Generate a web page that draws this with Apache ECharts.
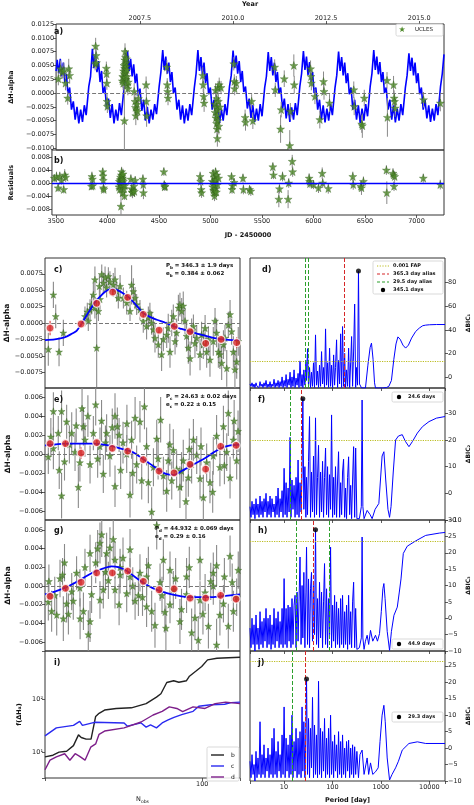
<!DOCTYPE html>
<html><head><meta charset="utf-8">
<script src="https://cdn.jsdelivr.net/npm/echarts@6.0.0/dist/echarts.min.js"></script>
<style>html,body{margin:0;padding:0;background:#fff}#c{width:474px;height:805px}</style>
</head><body><div id="c"></div>
<script>
// ---------------- DATA ----------------
// Panel a: model curve [JD-2450000, dH]
const modelCurve = [
[3462,0.0040],[3473,0.0060],[3488,0.0035],[3503,0.0062],[3518,0.0030],[3533,0.0055],[3548,0.0018],[3563,0.0035],[3578,-0.0002],[3595,0.0010],[3613,-0.0030],[3631,-0.0015],[3649,-0.0048],[3667,-0.0025],[3685,-0.0055],[3703,-0.0030],[3721,-0.0052],[3739,-0.0022],[3757,-0.0040],
[3783,0.0012],[3800,0.0030],[3818,0.0080],[3833,0.0045],[3848,0.0070],[3863,0.0038],[3878,0.0058],[3893,0.0020],[3908,0.0040],[3923,0.0000],[3940,0.0012],[3958,-0.0028],[3976,-0.0010],[3994,-0.0045],[4012,-0.0020],[4030,-0.0055],[4048,-0.0030],[4066,-0.0050],[4084,-0.0018],[4102,-0.0040],
[4128,0.0008],[4145,0.0032],[4163,0.0076],[4178,0.0040],[4193,0.0062],[4208,0.0030],[4223,0.0052],[4238,0.0018],[4253,0.0035],[4268,-0.0005],[4285,0.0008],[4303,-0.0032],[4321,-0.0012],[4339,-0.0050],[4357,-0.0025],[4375,-0.0055],[4393,-0.0030],[4411,-0.0048],[4429,-0.0020],[4447,-0.0038],
[4473,0.0012],[4490,0.0038],[4508,0.0078],[4523,0.0042],[4538,0.0066],[4553,0.0035],[4568,0.0055],[4583,0.0020],[4598,0.0038],[4613,0.0000],[4630,0.0010],[4648,-0.0030],[4666,-0.0012],[4684,-0.0048],[4702,-0.0022],[4720,-0.0055],[4738,-0.0028],[4756,-0.0050],[4774,-0.0020],[4792,-0.0040],
[4818,0.0010],[4835,0.0035],[4853,0.0078],[4868,0.0040],[4883,0.0065],[4898,0.0032],[4913,0.0055],[4928,0.0018],[4943,0.0036],[4958,-0.0002],[4975,0.0010],[4993,-0.0030],[5011,-0.0012],[5029,-0.0046],[5047,-0.0022],[5065,-0.0054],[5083,-0.0030],[5101,-0.0050],[5119,-0.0020],[5137,-0.0040],
[5163,0.0012],[5180,0.0032],[5198,0.0077],[5213,0.0045],[5228,0.0068],[5243,0.0035],[5258,0.0058],[5273,0.0020],[5288,0.0040],[5303,0.0002],[5320,0.0012],[5338,-0.0028],[5356,-0.0010],[5374,-0.0045],[5392,-0.0022],[5410,-0.0052],[5428,-0.0028],[5446,-0.0050],[5464,-0.0020],[5482,-0.0042],
[5508,0.0010],[5525,0.0030],[5543,0.0074],[5558,0.0040],[5573,0.0065],[5588,0.0032],[5603,0.0055],[5618,0.0020],[5633,0.0038],[5648,0.0000],[5665,0.0010],[5683,-0.0028],[5701,-0.0010],[5719,-0.0046],[5737,-0.0020],[5755,-0.0052],[5773,-0.0026],[5791,-0.0048],[5809,-0.0018],[5827,-0.0040],
[5853,0.0012],[5870,0.0035],[5888,0.0076],[5903,0.0042],[5918,0.0066],[5933,0.0033],[5948,0.0056],[5963,0.0020],[5978,0.0038],[5993,0.0000],[6010,0.0010],[6028,-0.0030],[6046,-0.0012],[6064,-0.0048],[6082,-0.0022],[6100,-0.0053],[6118,-0.0028],[6136,-0.0050],[6154,-0.0020],[6172,-0.0040],
[6198,0.0010],[6215,0.0032],[6233,0.0075],[6248,0.0040],[6263,0.0065],[6278,0.0032],[6293,0.0055],[6308,0.0018],[6323,0.0036],[6338,-0.0002],[6355,0.0010],[6373,-0.0030],[6391,-0.0012],[6409,-0.0048],[6427,-0.0022],[6445,-0.0054],[6463,-0.0028],[6481,-0.0050],[6499,-0.0020],[6517,-0.0042],
[6543,0.0012],[6560,0.0035],[6578,0.0078],[6593,0.0042],[6608,0.0066],[6623,0.0034],[6638,0.0056],[6653,0.0020],[6668,0.0038],[6683,0.0000],[6700,0.0010],[6718,-0.0030],[6736,-0.0012],[6754,-0.0048],[6772,-0.0022],[6790,-0.0053],[6808,-0.0028],[6826,-0.0050],[6844,-0.0020],[6862,-0.0040],
[6888,0.0010],[6905,0.0032],[6923,0.0072],[6938,0.0040],[6953,0.0064],[6968,0.0032],[6983,0.0055],[6998,0.0018],[7013,0.0036],[7028,-0.0002],[7045,0.0010],[7063,-0.0030],[7081,-0.0012],[7099,-0.0046],[7117,-0.0022],[7135,-0.0052],[7153,-0.0028],[7171,-0.0050],[7189,-0.0020],[7207,-0.0040],
[7233,0.0012],[7250,0.0035],[7267,0.0070]
];
// UCLES observations
const obsJD = [3484,3506,3522,3538,3554,3576,3586,3595, 3845,3850,3855,3858, 3955,3958,3960,3962,3965,
 4112,4116,4120,4124,4126,4128,4130,4132,4134,4136,4138,4140,4142,4144,4146,4148,4150,4152,4155,4158,4162,4166,4170,
 4228,4236,4240,4244,4250,4256,4262,4270, 4345,4348,4350, 4548,4552,4556,4560, 4900,4905,4910,4914,
 5018,5022,5026,5030,5034,5036,5038,5040,5042,5044,5046,5048,5050,5054,5058,5062,5070,5080,
 5205,5210,5214,5230, 5316,5320, 5380,5392, 5606,5612, 5664,5670, 5700, 5754,5760, 5794,5798, 5958,5962,5966,
 6001, 6049, 6085,6090, 6144, 6382,6386, 6460,6466,6485, 6708,6712, 6772,6778,6782,6788, 7066, 7231];
const obsDH = [0.0026,0.0044,0.0038,0.0041,0.0018,-0.0009,0.0044,0.0032, 0.0053,0.0085,0.0068,0.0055, 0.0045,0.0035,0.0018,-0.0015,-0.0024,
 0.0022,0.0030,0.0018,0.0040,0.0028,0.0050,0.0035,-0.0050,0.0045,0.0060,0.0075,0.0052,0.0065,0.0038,0.0055,0.0025,0.0048,0.0062,0.0042,0.0030,0.0015,0.0008,0.0020,
 0.0003,-0.0015,-0.0026,-0.0041,-0.0030,-0.0020,-0.0033,-0.0010, 0.0015,-0.0015,-0.0041, 0.0047,0.0015,0.0003,-0.0009, 0.0032,0.0015,-0.0006,-0.0018,
 -0.0020,-0.0035,0.0005,-0.0045,-0.0025,-0.0055,-0.0010,-0.0065,-0.0040,-0.0082,-0.0030,-0.0050,0.0010,-0.0015,-0.0060,0.0015,-0.0025,0.0010,
 0.0053,0.0021,0.0008,0.0018, -0.0044,-0.0053, -0.0015,-0.0050, 0.0047,0.0006, -0.0065,-0.0030, 0.0026, -0.0095,-0.0033, 0.0050,0.0015, 0.0044,0.0030,0.0018,
 -0.0006, -0.0048, 0.0021,0.0003, -0.0018, 0.0006,-0.0024, -0.0056,-0.0059,-0.0009, 0.0023,-0.0044, 0.0015,-0.0009,-0.0015,-0.0027, -0.0012, -0.0018];
const obsErr = [0.0012,0.0015,0.0012,0.0014,0.0013,0.0012,0.0018,0.0015, 0.0012,0.0015,0.0013,0.0012, 0.0012,0.0013,0.0012,0.0014,0.0012,
 0.0012,0.0015,0.0013,0.0016,0.0012,0.0018,0.0014,0.0075,0.0014,0.0016,0.0015,0.0013,0.0017,0.0012,0.0015,0.0012,0.0014,0.0016,0.0013,0.0012,0.0014,0.0012,0.0013,
 0.0015,0.0018,0.0016,0.0017,0.0015,0.0014,0.0016,0.0013, 0.0015,0.0014,0.0020, 0.0013,0.0012,0.0012,0.0013, 0.0015,0.0013,0.0014,0.0016,
 0.0013,0.0014,0.0012,0.0016,0.0013,0.0015,0.0012,0.0016,0.0014,0.0015,0.0013,0.0016,0.0012,0.0013,0.0015,0.0013,0.0014,0.0012,
 0.0012,0.0013,0.0012,0.0013, 0.0014,0.0015, 0.0013,0.0015, 0.0014,0.0013, 0.0025,0.0014, 0.0015, 0.0028,0.0015, 0.0020,0.0016, 0.0015,0.0014,0.0013,
 0.0014, 0.0016, 0.0018,0.0015, 0.0016, 0.0015,0.0016, 0.0016,0.0022,0.0015, 0.0015,0.0035, 0.0016,0.0014,0.0015,0.0016, 0.0014, 0.0015];
const obsRes = [0.0015,0.0020,-0.0015,0.0021,0.0008,-0.0020,0.0025,0.0018, -0.0010,0.0020,0.0012,-0.0008, 0.0035,0.0022,0.0008,-0.0015,-0.0020,
 -0.0012,0.0005,-0.0020,0.0010,-0.0005,0.0018,0.0002,-0.0072,0.0012,0.0025,0.0035,0.0008,0.0022,-0.0010,0.0015,-0.0030,0.0010,0.0028,0.0005,-0.0005,-0.0018,-0.0040,-0.0008,
 0.0012,-0.0018,-0.0028,-0.0030,-0.0022,-0.0010,-0.0026,0.0008, 0.0012,-0.0005,-0.0030, 0.0035,-0.0005,-0.0012,-0.0010, 0.0020,0.0005,-0.0020,-0.0030,
 0.0005,-0.0012,0.0030,-0.0022,0.0002,-0.0030,0.0018,-0.0040,-0.0008,-0.0025,0.0010,-0.0018,0.0035,0.0010,-0.0028,0.0025,-0.0005,0.0015,
 0.0020,-0.0020,-0.0008,0.0002, 0.0015,-0.0020, -0.0020,-0.0025, 0.0050,0.0025, -0.0050,-0.0018, 0.0020, -0.0050,0.0000, 0.0067,0.0035, 0.0015,0.0005,-0.0002,
 -0.0005, -0.0015, 0.0030,0.0000, -0.0017, 0.0020,-0.0005, -0.0010,-0.0015,0.0005, 0.0040,-0.0030, 0.0030,0.0025,-0.0010,0.0020, 0.0015, -0.0005];
const jdTicks = [3500,4000,4500,5000,5500,6000,6500,7000];
const yearTicks = [2007.5,2010.0,2012.5,2015.0];
const aTicks = [-0.01,-0.0075,-0.005,-0.0025,0,0.0025,0.005,0.0075,0.01,0.0125];
const bTicks = [-0.008,-0.004,0,0.004,0.008];

// Phase-folded panels: [phase, dH, err]
const phaseC = [[0.017,-0.0040,0.0025],[0.043,0.0043,0.0020],[0.055,0.0010,0.0018],[0.072,-0.0044,0.0022],[0.094,-0.0015,0.0020],[0.205,0.0010,0.0015],[0.217,0.0017,0.0014],[0.222,0.0003,0.0015],[0.231,0.0020,0.0016],[0.239,0.0028,0.0015],[0.248,0.0043,0.0018],[0.256,0.0066,0.0020],[0.256,0.0023,0.0016],[0.265,-0.0038,0.0060],[0.274,0.0018,0.0015],[0.279,0.0056,0.0018],[0.282,0.0036,0.0016],[0.291,0.0074,0.0015],[0.299,0.0061,0.0016],[0.308,0.0069,0.0017],[0.316,0.0054,0.0015],[0.325,0.0071,0.0014],[0.333,0.0063,0.0016],[0.350,0.0058,0.0018],[0.359,0.0066,0.0018],[0.368,0.0048,0.0015],[0.376,0.0038,0.0016],[0.385,0.0056,0.0017],[0.402,0.0038,0.0016],[0.419,0.0031,0.0018],[0.436,0.0018,0.0015],[0.444,0.0058,0.0030],[0.453,0.0048,0.0020],[0.462,0.0038,0.0017],[0.470,0.0028,0.0016],[0.487,0.0020,0.0015],[0.504,0.0003,0.0018],[0.521,-0.0005,0.0020],[0.530,0.0008,0.0017],[0.538,0.0015,0.0016],[0.547,0.0000,0.0018],[0.556,-0.0010,0.0020],[0.564,-0.0023,0.0022],[0.581,-0.0033,0.0020],[0.598,-0.0048,0.0025],[0.607,-0.0025,0.0018],[0.624,-0.0018,0.0020],[0.632,-0.0008,0.0022],[0.641,-0.0044,0.0024],[0.650,0.0000,0.0020],[0.658,0.0010,0.0018],[0.667,-0.0028,0.0020],[0.675,-0.0015,0.0022],[0.684,0.0023,0.0020],[0.692,0.0028,0.0018],[0.701,0.0018,0.0020],[0.709,0.0026,0.0022],[0.718,0.0003,0.0020],[0.726,-0.0020,0.0022],[0.735,-0.0038,0.0024],[0.744,-0.0054,0.0026],[0.752,-0.0013,0.0020],[0.761,-0.0005,0.0018],[0.769,-0.0031,0.0022],[0.778,-0.0023,0.0020],[0.795,-0.0048,0.0024],[0.803,-0.0018,0.0020],[0.812,-0.0033,0.0022],[0.821,-0.0008,0.0020],[0.829,-0.0044,0.0024],[0.838,-0.0025,0.0020],[0.846,-0.0056,0.0026],[0.863,-0.0028,0.0022],[0.872,0.0003,0.0020],[0.880,-0.0015,0.0022],[0.889,-0.0044,0.0024],[0.897,-0.0048,0.0022],[0.906,-0.0061,0.0026],[0.915,-0.0033,0.0022],[0.923,-0.0023,0.0020],[0.932,-0.0069,0.0028],[0.940,-0.0003,0.0020],[0.949,0.0013,0.0022],[0.957,-0.0013,0.0020],[0.966,-0.0044,0.0024],[0.974,-0.0071,0.0030],[0.983,-0.0059,0.0026],[0.991,-0.0028,0.0022]];
const binC = [[0.026,-0.00077,0.0011],[0.185,-0.00015,0.0004],[0.265,0.0030,0.0005],[0.347,0.0047,0.0004],[0.424,0.0039,0.0004],[0.504,0.0013,0.0004],[0.585,-0.0011,0.0004],[0.663,-0.0005,0.0004],[0.744,-0.0013,0.0004],[0.824,-0.0031,0.0005],[0.903,-0.0025,0.0005],[0.983,-0.0030,0.0008]];
const modelC = [[0,-0.0026],[0.05,-0.0025],[0.10,-0.0022],[0.14,-0.0016],[0.162,-0.0012],[0.19,0.0],[0.21,0.0010],[0.231,0.0020],[0.255,0.0031],[0.282,0.0040],[0.31,0.0048],[0.342,0.0052],[0.37,0.0050],[0.402,0.0045],[0.43,0.0039],[0.453,0.0032],[0.48,0.0023],[0.504,0.0015],[0.54,0.0009],[0.573,0.0005],[0.62,0.0000],[0.658,-0.0005],[0.70,-0.0009],[0.744,-0.0013],[0.79,-0.0017],[0.829,-0.0020],[0.87,-0.0023],[0.915,-0.0025],[0.96,-0.0026],[1.0,-0.0026]];

const phaseE = [[0.017,-0.0003,0.0018],[0.03,0.0018,0.0020],[0.043,0.0006,0.0022],[0.043,0.0045,0.0020],[0.068,0.0022,0.0018],[0.073,-0.0017,0.0020],[0.085,-0.0044,0.0024],[0.085,0.0045,0.0022],[0.10,-0.0008,0.0020],[0.111,0.0034,0.0018],[0.125,0.0010,0.0020],[0.137,0.0022,0.0022],[0.154,0.0002,0.0020],[0.16,0.0030,0.0018],[0.171,-0.0035,0.0022],[0.179,-0.0009,0.0020],[0.19,0.0048,0.0024],[0.197,0.0029,0.0020],[0.205,0.0015,0.0018],[0.22,0.0040,0.0022],[0.231,-0.0011,0.0020],[0.248,0.0022,0.0018],[0.26,0.0052,0.0022],[0.27,-0.0005,0.0020],[0.282,0.0008,0.0020],[0.29,0.0035,0.0022],[0.299,-0.0021,0.0020],[0.31,0.0012,0.0018],[0.316,0.0022,0.0020],[0.333,-0.0002,0.0022],[0.345,0.0028,0.0020],[0.359,-0.0034,0.0022],[0.359,0.0040,0.0024],[0.371,0.0029,0.0020],[0.38,0.0020,0.0018],[0.388,-0.0017,0.0020],[0.40,0.0012,0.0022],[0.419,0.0000,0.0020],[0.42,0.0032,0.0020],[0.436,-0.0043,0.0024],[0.444,0.0015,0.0020],[0.45,-0.0020,0.0022],[0.462,0.0038,0.0022],[0.470,-0.0011,0.0020],[0.487,0.0034,0.0022],[0.496,-0.0028,0.0020],[0.51,0.0050,0.0024],[0.521,0.0008,0.0020],[0.53,-0.0030,0.0022],[0.547,-0.0061,0.0026],[0.556,-0.0014,0.0020],[0.573,0.0016,0.0020],[0.58,-0.0005,0.0022],[0.593,0.0036,0.0024],[0.607,-0.0023,0.0020],[0.624,-0.0039,0.0022],[0.632,-0.0007,0.0020],[0.64,0.0010,0.0022],[0.650,-0.0028,0.0020],[0.658,0.0004,0.0022],[0.675,-0.0016,0.0020],[0.692,-0.0035,0.0022],[0.70,-0.0018,0.0020],[0.709,-0.0007,0.0022],[0.723,-0.0050,0.0024],[0.735,-0.0025,0.0020],[0.74,0.0005,0.0022],[0.752,-0.0011,0.0020],[0.761,0.0015,0.0022],[0.778,-0.0001,0.0020],[0.795,-0.0026,0.0022],[0.80,0.0008,0.0020],[0.812,-0.0046,0.0024],[0.829,-0.0009,0.0020],[0.846,-0.0030,0.0022],[0.86,-0.0040,0.0022],[0.863,-0.0002,0.0020],[0.880,0.0019,0.0022],[0.897,-0.0014,0.0020],[0.915,0.0029,0.0022],[0.92,-0.0012,0.0020],[0.932,0.0002,0.0020],[0.940,0.0043,0.0024],[0.949,-0.0025,0.0022],[0.966,0.0015,0.0020],[0.97,0.0035,0.0022],[0.983,-0.0007,0.0020],[0.990,0.0024,0.0022]];
const binE = [[0.026,0.0011,0.0004],[0.105,0.0011,0.0003],[0.185,0.0001,0.0006],[0.265,0.0012,0.0003],[0.345,0.0006,0.0003],[0.424,0.0003,0.0004],[0.504,-0.0006,0.0004],[0.585,-0.0018,0.0004],[0.662,-0.0020,0.0003],[0.744,-0.0011,0.0004],[0.824,-0.0016,0.0005],[0.901,0.0008,0.0004],[0.980,0.0009,0.0003]];
const modelE = [[0,0.0009],[0.05,0.0010],[0.1,0.0011],[0.15,0.0011],[0.2,0.0011],[0.25,0.0011],[0.3,0.0010],[0.35,0.0008],[0.4,0.0005],[0.45,0.0002],[0.5,-0.0005],[0.55,-0.0012],[0.585,-0.0017],[0.62,-0.0021],[0.66,-0.0022],[0.70,-0.0018],[0.744,-0.0013],[0.78,-0.0009],[0.824,-0.0004],[0.86,0.0001],[0.901,0.0006],[0.95,0.0009],[1.0,0.0010]];

const phaseG = [[0.017,-0.0017,0.0020],[0.02,0.0005,0.0018],[0.034,-0.0027,0.0022],[0.05,-0.0010,0.0020],[0.06,-0.0031,0.0022],[0.077,0.0008,0.0020],[0.09,0.0012,0.0018],[0.094,-0.0035,0.0024],[0.10,0.0025,0.0020],[0.111,-0.0019,0.0020],[0.12,-0.0030,0.0022],[0.137,-0.0006,0.0020],[0.145,-0.0016,0.0020],[0.162,0.0014,0.0018],[0.179,-0.0002,0.0020],[0.18,-0.0035,0.0022],[0.197,-0.0027,0.0020],[0.205,0.0020,0.0020],[0.222,-0.0052,0.0026],[0.231,-0.0038,0.0022],[0.231,0.0035,0.0020],[0.239,-0.0009,0.0020],[0.26,0.0025,0.0022],[0.27,0.0040,0.0020],[0.282,-0.0015,0.0020],[0.282,0.0046,0.0022],[0.291,0.0055,0.0024],[0.299,-0.0004,0.0020],[0.31,0.0015,0.0020],[0.316,0.0035,0.0022],[0.325,0.0006,0.0020],[0.333,0.0041,0.0022],[0.35,0.0050,0.0024],[0.359,-0.0004,0.0020],[0.359,0.0028,0.0020],[0.38,-0.0020,0.0022],[0.385,0.0012,0.0020],[0.385,0.0020,0.0020],[0.40,0.0030,0.0022],[0.419,-0.0008,0.0020],[0.436,0.0010,0.0020],[0.436,0.0039,0.0022],[0.45,0.0000,0.0020],[0.462,-0.0016,0.0020],[0.479,-0.0010,0.0022],[0.487,0.0014,0.0020],[0.50,-0.0012,0.0020],[0.521,-0.0022,0.0022],[0.521,0.0010,0.0020],[0.53,0.0022,0.0020],[0.547,-0.0027,0.0022],[0.564,-0.0042,0.0024],[0.573,0.0065,0.0026],[0.590,0.0004,0.0020],[0.60,-0.0010,0.0020],[0.607,0.0028,0.0022],[0.615,-0.0028,0.0022],[0.62,-0.0045,0.0024],[0.641,-0.0020,0.0020],[0.641,0.0017,0.0020],[0.658,-0.0004,0.0020],[0.67,0.0008,0.0022],[0.692,-0.0038,0.0024],[0.70,-0.0025,0.0022],[0.726,-0.0009,0.0020],[0.726,0.0010,0.0020],[0.74,0.0020,0.0022],[0.752,-0.0050,0.0026],[0.769,-0.0034,0.0024],[0.786,-0.0058,0.0026],[0.795,-0.0015,0.0020],[0.795,0.0028,0.0022],[0.81,-0.0030,0.0022],[0.821,-0.0007,0.0020],[0.838,-0.0043,0.0024],[0.85,0.0005,0.0020],[0.863,0.0000,0.0020],[0.863,0.0014,0.0022],[0.880,-0.0063,0.0028],[0.88,0.0022,0.0022],[0.897,-0.0031,0.0022],[0.915,-0.0019,0.0020],[0.92,0.0010,0.0020],[0.940,-0.0043,0.0024],[0.949,0.0032,0.0022],[0.96,0.0004,0.0020],[0.966,-0.0027,0.0022],[0.983,-0.0012,0.0020],[0.991,0.0017,0.0020]];
const binG = [[0.026,-0.0011,0.0003],[0.105,-0.00025,0.0003],[0.185,0.0004,0.0003],[0.265,0.0014,0.0003],[0.345,0.0014,0.0003],[0.424,0.0016,0.0003],[0.504,0.0005,0.0003],[0.585,-0.0004,0.0004],[0.662,-0.0003,0.0004],[0.744,-0.0013,0.0004],[0.824,-0.0013,0.0004],[0.901,-0.0010,0.0005],[0.980,-0.0014,0.0004]];
const modelG = [[0,-0.0009],[0.05,-0.0006],[0.1,-0.0002],[0.15,0.0003],[0.2,0.0009],[0.25,0.0015],[0.3,0.0019],[0.34,0.0021],[0.38,0.0020],[0.42,0.0016],[0.46,0.0010],[0.5,0.0004],[0.55,-0.0002],[0.6,-0.0006],[0.65,-0.0009],[0.7,-0.0011],[0.75,-0.0012],[0.8,-0.0012],[0.85,-0.0012],[0.9,-0.0011],[0.95,-0.0010],[1.0,-0.0009]];
const phTicks7 = [-0.0075,-0.005,-0.0025,0,0.0025,0.005,0.0075];
const phTicks6 = [-0.006,-0.004,-0.002,0,0.002,0.004,0.006];

// Periodograms: shared short-period grid (days) and dBIC values
const periodGrid = [2.00,2.10,2.20,2.31,2.42,2.53,2.66,2.79,2.92,3.07,
 3.22,3.37,3.54,3.71,3.89,4.08,4.28,4.49,4.71,4.94,
 5.18,5.43,5.69,5.97,6.26,6.57,6.89,7.22,7.58,7.95,
 8.33,8.74,9.17,9.61,10.1,10.6,11.1,11.6,12.2,12.8,
 13.4,14.0,14.7,15.4,16.2,17.0,17.8,18.7,19.6,20.5,
 21.5,22.6,23.7,24.6,25.8,27.1,28.4,29.3,30.7,32.2,
 33.8,35.4,37.1,38.9,40.8,42.8,44.9,47.1,49.4,51.8,
 54.3,57.0,59.8,62.7,65.7,68.9,72.3,75.8,79.5,83.4,
 87.5,91.7,96.2,101,106,111,116,122,128,134,
 141,148,155,162,170,179,187,196,206,216,
 227,238,249,261,274,288,302];
const bicD = [-6,-8,-5,-8.5,-6,-9,-5,-8,-6.5,-9, -4,-8,-6,-9,-5,-8,-3,-9,-6,-8.5, -4,-9,-6,-8,-2,-9,-5,-8,-3,-9,
 -4,-8,0,-9,-3,-8,2,-9,-2,-7, 4,-9,0,-8,6,-9,-1,-7,3,-9, 13.6,-8,2,-9,6,-7,14,-3,24,-8,
 8,-9,4,-8,12,-9,35.7,-7,5,-9, 10,-8,21.5,-6,8,-9,40.8,-7,12,-9, 24.4,-8,10,-9,18.7,-7,8,31.5,-9,14,
 -6,36.6,-9,42.8,-8,20,-9,6,-8,24.4, -9,12,34.3,-8,22,61.9,-9];
const bicF = [-5,-9,-3,-8,-4,-9.5,-2,-8,-4,-9, -1,-8,-3,-9,-2,-7,0,-9,-3,-8, -1,-9,-2,-7,-4,-9,-1,-8,2,-9,
 -2,-7,1,-9,9.4,-8,4,-9,2,-7, 21,-9,5,-6,3,-9,6,-8,12.5,-9, 4,-7,8,35.5,-6,10,-9,6,-8,12,
 28.8,-9,8,-7,14,-9,28.3,-8,6,18, -9,8,-7,12,-9,6,17,-8,10,-9, 7,-6,29.4,-9,6,-8,10,-9,5,15.6,
 -9,4,-8,8,12.8,-9,2,-9.5,6,13.7, -8,3,-9.5,5,17.5,-9,17];
const bicH = [-3,-9,0,-8,-2,-10,1,-8,-3,-9.5, 2,-8,-1,-9,0,-7,3,-9,0,-8, 1,-9.5,-2,-8,3,-9,0,-7,2,-9,
 -1,-8,3,-9,12.1,-8,3,-9,4,-7, 3.4,-9,6,-8,4,7,-9,8,-7,5, 18.7,-8,10,-6,14,-9,8,21.7,-8,12,
 -9,9,14,-7,10,-5,27,-8,6,-9, 11,-6,8,-9,5,16.7,-8,9,-9,6, -5,21.7,-9,4,-7,7,-9,5,-8,3,
 -9,6,-8,7,-9,2,-8,4,-9.5,7, -8,2,-9,5,11,-9,3];
const bicJ = [-4,-9,-2,-8,-5,-10,-1,-9,-3,-8, 8,-9,-2,-8,1,-9,-3,-7,0,-9, -2,-8,3,-9,6,-8,-1,-9,2,-7,
 -2,-9,4,-8,12.5,-9,3,-7,1,-9, 4,-8,10,-9,2,-7,6,-9,3,-8, 5,-9,12.5,-7,8,-9,5,21,-8,9,
 -9,6,-6,15.4,-9,7,-8,4,-9,20.3, -8,6,-9,5,-7,9,-9,3,-8,6, -9,10,-8,2,-9,4,-7,1,-9,5,
 -8,2,-9,4,-8,0,-9,2,-7,2.4, -9,0,-8,1,-9,0.4,-8];
// long-period parts [period, dBIC]
const longD = [[315,8],[330,-7],[345.1,90],[362,-6],[400,-9.4],[481,-9.4],[540,10],[600,25],[640,28.7],[690,15],[740,-5],[774,-9.4],[900,-9.4],[1100,-9.4],[1300,-9],[1459,-8],[1650,-3],[1850,15],[2050,28],[2243,34],[2500,32],[2850,27],[3236,24.5],[3700,27],[4300,33],[5212,38.6],[6200,41.5],[7300,43.5],[8395,44],[10000,44.3],[14000,44.5],[21000,44.5]];
const longF = [[320,-9.5],[360,-9.5],[395,-5],[410,35],[425,-5],[450,-9.5],[521,-6.4],[600,-8],[660,-9.5],[760,-6],[908,-3.8],[980,5],[1060,14],[1153,15.6],[1260,5],[1400,-6],[1510,-9],[1620,-5],[1800,8],[2010,20],[2300,21.5],[2760,22],[3200,19.5],[3790,17.5],[4500,19.5],[5650,22.6],[7200,25],[9820,26.9],[14000,28.2],[21000,28.8]];
const longH = [[320,-9.5],[360,-9],[395,-6],[410,24.8],[425,-6],[450,-9.5],[480,-7],[521,-5.2],[560,-8],[611,-3.7],[680,-7],[774,-5.2],[850,-7],[937,-4.7],[1020,2],[1100,9],[1153,10.6],[1220,6],[1350,-4],[1510,-9.8],[1650,-4],[1860,0.9],[2180,3.4],[2400,8],[2600,12],[2900,19.8],[3500,22],[5200,23.6],[8400,25.3],[16000,26],[21000,26.2]];
const longJ = [[320,-1],[345,-9],[370,-2],[410,-0.6],[450,-8],[521,-3],[560,-8],[611,-4.5],[680,-8],[774,-7.2],[880,-6],[960,2],[1060,10],[1153,13],[1230,8],[1350,-3],[1510,-9.7],[1700,-8],[2010,-6],[2300,-4],[2760,-0.6],[3790,1.4],[5650,1.9],[8395,1.4],[21000,1.4]];
const peaks = {d:[345.1,90], f:[24.6,35.5], h:[44.9,27], j:[29.3,21]};
const peakLabels = {d:'345.1 days', f:'24.6 days', h:'44.9 days', j:'29.3 days'};
const fap = {d:13.5, f:20, h:23.5, j:26.5};
const aliasGreen = {d:[27.2,32.3], f:[13.4], h:[17.8,86], j:[14.7]};
const aliasRed = {d:[177.5], f:[23.05], h:[40.0], j:[27.1]};
const bicTicks = {d:[0,20,40,60,80], f:[-10,0,10,20,30], h:[-10,-5,0,5,10,15,20,25,30], j:[-10,-5,0,5,10,15,20,25]};

// Panel i: f(dH) vs N_obs
const nObsB = [[11,8.1],[12.3,8.7],[13.4,10],[14.9,10.4],[16.4,13.3],[17.6,21.3],[18.3,19],[19.6,17.7],[21,17.7],[22.4,47.9],[23.5,55],[25.4,63.4],[29.9,68],[37,70],[45.5,84],[52.6,112],[56,130],[60.8,213],[67,230],[72,215],[80.2,230],[83.6,281],[91.3,348],[99.3,431],[107.8,575],[123,617],[170,645]];
const nObsC = [[11,20.4],[12.9,29],[16.4,32.4],[17.9,38.6],[18.6,32.4],[22,37],[33.4,36],[35,31.2],[42.4,36],[45.5,29.9],[48.4,33],[52.6,29],[57,36],[62,41],[67.3,46],[75,52],[88,60],[95.3,75],[113,80],[137,82],[150,88],[170,90]];
const nObsD = [[11,4.6],[11.8,7],[12.9,8.1],[14.5,9.3],[15.6,7],[16.8,9.3],[17.9,8.3],[19.3,7],[20.9,12.4],[22.4,14.3],[23.5,21.8],[25.4,25.2],[33.4,29],[42.4,37.5],[50.2,51],[57,60],[63,73],[70,68],[76,59],[88,73],[104,68],[120,84],[139,90],[170,84]];

// ---------------- CHART ----------------
const FONT = 'DejaVu Sans';
const jdMin = 3462, jdMax = 7267;
const yearMin = 2000 + (jdMin - 1544.5) / 365.25, yearMax = 2000 + (jdMax - 1544.5) / 365.25;
const BLUE = '#0000ff', GREEN = '#4f8a2b', GREENEDGE = '#2d5716', GREY = '#8a8a8a', RED = '#d62728';
const STAR = 'path://M0,-10 L2.35,-3.24 L9.51,-3.09 L3.8,1.24 L5.88,8.09 L0,4 L-5.88,8.09 L-3.8,1.24 L-9.51,-3.09 L-2.35,-3.24 Z';

function fmtDec(d) { return v => Math.abs(v) < 1e-12 ? (0).toFixed(d) : (v < 0 ? '\u2212' : '') + Math.abs(v).toFixed(d); }
function fmtInt(v) { return (v < 0 ? '\u2212' : '') + Math.abs(Math.round(v)); }
function onlyPow(list) { return v => { for (const t of list) if (Math.abs(v / t - 1) < 1e-6) return String(t); return ''; }; }

const tick = { show: true, length: 3, lineStyle: { color: '#333', width: 0.8 } };
const lab = { fontSize: 6.5, color: '#222', fontFamily: FONT, margin: 2 };
const nameStyle = (fs) => ({ fontSize: fs, fontWeight: 'bold', color: '#111', fontFamily: FONT });
const noSplit = { show: false };
const noLine = { show: false, onZero: false };

const gridBoxes = [
  [46, 21, 398, 129], [46, 150, 398, 65],
  [45, 258, 195, 130], [250, 258, 195, 130],
  [45, 388, 195, 132], [250, 388, 195, 132],
  [45, 520, 195, 131], [250, 520, 195, 131],
  [45, 651, 195, 131], [250, 651, 195, 131]
];
const grid = gridBoxes.map(b => ({ left: b[0], top: b[1], width: b[2], height: b[3], show: true, borderColor: '#333', borderWidth: 1, backgroundColor: 'rgba(0,0,0,0)', containLabel: false }));

const hiddenX = (gi, min, max) => ({ gridIndex: gi, type: 'value', min, max, axisLine: noLine, axisTick: { show: false }, axisLabel: { show: false }, splitLine: noSplit });
const periodX = (gi, showLab) => ({ gridIndex: gi, type: 'log', logBase: 10, min: 2, max: 21000, axisLine: noLine,
  axisTick: tick, axisLabel: Object.assign({}, lab, { show: showLab, formatter: onlyPow([10, 100, 1000, 10000]), margin: 3 }), splitLine: noSplit });

const xAxis = [
  hiddenX(0, jdMin, jdMax),
  { gridIndex: 0, type: 'value', position: 'top', min: yearMin, max: yearMax, axisLine: noLine,
    axisTick: Object.assign({}, tick, { customValues: yearTicks }), axisLabel: Object.assign({}, lab, { customValues: yearTicks, formatter: v => v.toFixed(1) }),
    splitLine: noSplit, name: 'Year', nameLocation: 'middle', nameGap: 16, nameTextStyle: nameStyle(6.5) },
  { gridIndex: 1, type: 'value', min: jdMin, max: jdMax, axisLine: noLine,
    axisTick: Object.assign({}, tick, { customValues: jdTicks }), axisLabel: Object.assign({}, lab, { customValues: jdTicks, margin: 3, formatter: v => String(Math.round(v)) }),
    splitLine: noSplit, name: 'JD - 2450000', nameLocation: 'middle', nameGap: 17, nameTextStyle: nameStyle(6.5) },
  hiddenX(2, 0, 1),
  periodX(3, false),
  hiddenX(4, 0, 1),
  periodX(5, false),
  hiddenX(6, 0, 1),
  periodX(7, false),
  { gridIndex: 8, type: 'log', logBase: 10, min: 11, max: 170, axisLine: noLine, axisTick: tick,
    axisLabel: Object.assign({}, lab, { formatter: onlyPow([100]), margin: 3 }), splitLine: noSplit,
    name: '{n|N}{s|obs}', nameLocation: 'middle', nameGap: 17,
    nameTextStyle: { fontFamily: FONT, color: '#111', rich: { n: { fontSize: 6.5, fontFamily: FONT }, s: { fontSize: 4.5, fontFamily: FONT, padding: [4, 0, 0, 0] } } } },
  Object.assign(periodX(9, true), { name: 'Period [day]', nameLocation: 'middle', nameGap: 16, nameTextStyle: nameStyle(6.5) })
];

const leftY = (gi, min, max, ticks, fmt, name, gap, fs) => ({ gridIndex: gi, type: 'value', min, max, axisLine: noLine,
  axisTick: Object.assign({}, tick, { customValues: ticks }), axisLabel: Object.assign({}, lab, { customValues: ticks, formatter: fmt }),
  splitLine: noSplit, name: name, nameLocation: 'middle', nameGap: gap, nameRotate: 90, nameTextStyle: nameStyle(fs) });
const rightY = (gi, min, max, ticks, name) => ({ gridIndex: gi, type: 'value', position: 'right', min, max, axisLine: noLine,
  axisTick: Object.assign({}, tick, { customValues: ticks }), axisLabel: Object.assign({}, lab, { customValues: ticks, formatter: fmtInt, margin: 3 }),
  splitLine: noSplit, name: name, nameLocation: 'middle', nameGap: 20, nameRotate: 90, nameTextStyle: nameStyle(6) });

const yAxis = [
  leftY(0, -0.0103, 0.0125, aTicks, fmtDec(4), '\u0394H-alpha', 39, 6.5),
  leftY(1, -0.0099, 0.0102, bTicks, fmtDec(3), 'Residuals', 36, 6.5),
  leftY(2, -0.0099, 0.0099, phTicks7, fmtDec(4), '\u0394H-alpha', 33, 7.5),
  rightY(3, -9.4, 101, bicTicks.d, '\u0394BIC\u2081'),
  leftY(4, -0.00696, 0.00696, phTicks6, fmtDec(3), '\u0394H-alpha', 33, 7.5),
  rightY(5, -10, 39.5, bicTicks.f, '\u0394BIC\u2082'),
  leftY(6, -0.00696, 0.00707, phTicks6, fmtDec(3), '\u0394H-alpha', 33, 7.5),
  rightY(7, -10, 30, bicTicks.h, '\u0394BIC\u2083'),
  { gridIndex: 8, type: 'log', logBase: 10, min: 3.2, max: 850, axisLine: noLine, axisTick: tick,
    axisLabel: Object.assign({}, lab, { formatter: v => Math.abs(v / 10 - 1) < 1e-6 ? '10\u00b9' : (Math.abs(v / 100 - 1) < 1e-6 ? '10\u00b2' : '') }),
    splitLine: noSplit, name: '{a|f(\u0394H}{s|\u03b1}{a|)}', nameLocation: 'middle', nameGap: 22, nameRotate: 90,
    nameTextStyle: { fontFamily: FONT, color: '#111', rich: { a: { fontSize: 6.5, fontWeight: 'bold', fontFamily: FONT }, s: { fontSize: 4.5, fontWeight: 'bold', fontFamily: FONT } } } },
  rightY(9, -10, 29.5, bicTicks.j, '\u0394BIC\u2084')
];

function errRender(color, width) {
  return function (params, api) {
    const cs = params.coordSys;
    const x = api.value(0), y = api.value(1), e = api.value(2);
    const p1 = api.coord([x, y - e]), p2 = api.coord([x, y + e]);
    const lo = cs.y, hi = cs.y + cs.height;
    const c = v => Math.min(Math.max(v, lo), hi);
    return { type: 'line', shape: { x1: p1[0], y1: c(p1[1]), x2: p2[0], y2: c(p2[1]) }, style: { stroke: color, lineWidth: width } };
  };
}
const zeroDash = { symbol: 'none', silent: true, label: { show: false }, lineStyle: { type: 'dashed', color: '#777', width: 1 }, data: [{ yAxis: 0 }] };

const series = [];
// Panel a
const obsTriples = obsJD.map((x, i) => [x, obsDH[i], obsErr[i]]);
const resTriples = obsJD.map((x, i) => [x, obsRes[i], obsErr[i]]);
series.push({ type: 'line', xAxisIndex: 0, yAxisIndex: 0, data: modelCurve, showSymbol: false, lineStyle: { color: BLUE, width: 1.6 }, z: 2, markLine: zeroDash });
series.push({ type: 'custom', xAxisIndex: 0, yAxisIndex: 0, data: obsTriples, renderItem: errRender(GREY, 1), encode: { x: 0, y: 1 }, z: 3 });
series.push({ name: 'UCLES', type: 'scatter', xAxisIndex: 0, yAxisIndex: 0, data: obsTriples, symbol: STAR, symbolSize: 8, itemStyle: { color: GREEN, borderColor: GREENEDGE, borderWidth: 0.4 }, z: 4 });
// Panel b
series.push({ type: 'custom', xAxisIndex: 2, yAxisIndex: 1, data: resTriples, renderItem: errRender(GREY, 1), encode: { x: 0, y: 1 }, z: 3,
  markLine: { symbol: 'none', silent: true, label: { show: false }, lineStyle: { type: 'solid', color: BLUE, width: 1.4 }, data: [{ yAxis: 0 }] } });
series.push({ type: 'scatter', xAxisIndex: 2, yAxisIndex: 1, data: resTriples, symbol: STAR, symbolSize: 8, itemStyle: { color: GREEN, borderColor: GREENEDGE, borderWidth: 0.4 }, z: 4 });
// Phase panels
function phasePanel(xi, yi, pts, bins, model) {
  series.push({ type: 'custom', xAxisIndex: xi, yAxisIndex: yi, data: pts, renderItem: errRender(GREY, 1.1), encode: { x: 0, y: 1 }, z: 2, markLine: zeroDash });
  series.push({ type: 'scatter', xAxisIndex: xi, yAxisIndex: yi, data: pts, symbol: STAR, symbolSize: 7, itemStyle: { color: GREEN, borderColor: GREENEDGE, borderWidth: 0.4 }, z: 3 });
  series.push({ type: 'line', xAxisIndex: xi, yAxisIndex: yi, data: model, showSymbol: false, smooth: 0.3, lineStyle: { color: BLUE, width: 1.8 }, z: 4 });
  series.push({ type: 'custom', xAxisIndex: xi, yAxisIndex: yi, data: bins, renderItem: errRender(RED, 1), encode: { x: 0, y: 1 }, z: 5 });
  series.push({ type: 'scatter', xAxisIndex: xi, yAxisIndex: yi, data: bins, symbol: 'circle', symbolSize: 8, itemStyle: { color: RED, borderColor: '#fff', borderWidth: 1.2 }, z: 6 });
}
phasePanel(3, 2, phaseC, binC, modelC);
phasePanel(5, 4, phaseE, binE, modelE);
phasePanel(7, 6, phaseG, binG, modelG);
// Periodograms
function pgram(xi, yi, key, vals, longPart) {
  const data = periodGrid.map((p, i) => [p, vals[i]]).concat(longPart);
  const ml = [{ yAxis: fap[key], lineStyle: { color: '#bcbd22', type: 'dotted', width: 1.2 } }];
  aliasGreen[key].forEach(p => ml.push({ xAxis: p, lineStyle: { color: '#2ca02c', type: [4, 2], width: 1 } }));
  aliasRed[key].forEach(p => ml.push({ xAxis: p, lineStyle: { color: RED, type: [4, 2], width: 1 } }));
  series.push({ type: 'line', xAxisIndex: xi, yAxisIndex: yi, data, showSymbol: false, lineStyle: { color: BLUE, width: 1 }, z: 3, clip: true,
    markLine: { symbol: 'none', silent: true, label: { show: false }, data: ml, z: 4 } });
  series.push({ type: 'scatter', xAxisIndex: xi, yAxisIndex: yi, data: [peaks[key]], symbol: 'circle', symbolSize: 5, itemStyle: { color: '#000' }, z: 6 });
}
pgram(4, 3, 'd', bicD, longD);
pgram(6, 5, 'f', bicF, longF);
pgram(8, 7, 'h', bicH, longH);
pgram(10, 9, 'j', bicJ, longJ);
// Panel i
series.push({ type: 'line', xAxisIndex: 9, yAxisIndex: 8, data: nObsB, showSymbol: false, lineStyle: { color: '#222', width: 1.4 }, z: 3 });
series.push({ type: 'line', xAxisIndex: 9, yAxisIndex: 8, data: nObsC, showSymbol: false, lineStyle: { color: '#2a2af0', width: 1.4 }, z: 3 });
series.push({ type: 'line', xAxisIndex: 9, yAxisIndex: 8, data: nObsD, showSymbol: false, lineStyle: { color: '#7d1f8a', width: 1.4 }, z: 3 });

// ---------------- GRAPHICS (labels, legends) ----------------
const g = [];
const txt = (t, x, y, fs, opts) => g.push(Object.assign({ type: 'text', x, y, z: 100, style: Object.assign({ text: t, fontSize: fs, fontWeight: 'bold', fontFamily: FONT, fill: '#111', verticalAlign: 'middle' }, (opts || {})) }));
[['a)', 54, 32], ['b)', 54, 161], ['c)', 54, 270], ['d)', 262, 270], ['e)', 54, 400], ['f)', 258, 400], ['g)', 54, 531], ['h)', 258, 531], ['i)', 54, 663], ['j)', 258, 663]]
  .forEach(l => txt(l[0], l[1], l[2], 8));
// annotations
const richAnn = { b: { fontSize: 5.5, fontWeight: 'bold', fontFamily: FONT }, s: { fontSize: 4, fontWeight: 'bold', fontFamily: FONT, padding: [3, 0, 0, 0] } };
txt('{b|P}{s|b}{b| = 346.3 \u00b1 1.9 days}', 166, 266, 5.5, { rich: richAnn });
txt('{b|e}{s|b}{b| = 0.384 \u00b1 0.062}', 166, 274, 5.5, { rich: richAnn });
txt('{b|P}{s|c}{b| = 24.63 \u00b1 0.02 days}', 166, 397, 5.5, { rich: richAnn });
txt('{b|e}{s|c}{b| = 0.22 \u00b1 0.15}', 166, 405, 5.5, { rich: richAnn });
txt('{b|P}{s|d}{b| = 44.932 \u00b1 0.069 days}', 155, 529, 5.5, { rich: richAnn });
txt('{b|e}{s|d}{b| = 0.29 \u00b1 0.16}', 155, 537, 5.5, { rich: richAnn });
const box = (x, y, w, h) => g.push({ type: 'rect', z: 90, shape: { x, y, width: w, height: h, r: 1.5 }, style: { fill: 'rgba(255,255,255,0.85)', stroke: '#cfcfcf', lineWidth: 0.8 } });
const seg = (x1, y, x2, color, dash, w) => g.push({ type: 'line', z: 95, shape: { x1, y1: y, x2, y2: y }, style: { stroke: color, lineWidth: w || 1.2, lineDash: dash || null } });
const dot = (x, y, r, color) => g.push({ type: 'circle', z: 95, shape: { cx: x, cy: y, r }, style: { fill: color } });
// legend a
box(396, 24, 47, 12);
g.push({ type: 'text', z: 95, x: 402, y: 30, style: { text: '\u2605', fontSize: 8, fill: GREEN, fontFamily: FONT, verticalAlign: 'middle', align: 'center' } });
txt('UCLES', 415, 30, 5.5, { fontWeight: 'normal' });
// legend d
box(373, 261, 70, 33);
seg(377, 266, 389, '#bcbd22', [1.2, 1.5]); txt('0.001 FAP', 393, 266, 5);
seg(377, 274, 389, RED, [3, 2]); txt('365.3 day alias', 393, 274, 5);
seg(377, 282, 389, '#2ca02c', [3, 2]); txt('29.5 day alias', 393, 282, 5);
dot(383, 290, 2.2, '#000'); txt('345.1 days', 393, 290, 5);
// peak legends f, h, j
[['f', 392, 392], ['h', 392, 639], ['j', 392, 712]].forEach(l => {
  box(l[1], l[2], 51, 10); dot(l[1] + 7, l[2] + 5, 2.2, '#000'); txt(peakLabels[l[0]], l[1] + 16, l[2] + 5, 5);
});
// legend i
box(207, 747, 32, 34);
seg(211, 755, 224, '#222', null, 1.4); txt('b', 231, 755, 6, { fontWeight: 'normal' });
seg(211, 766, 224, '#2a2af0', null, 1.4); txt('c', 231, 766, 6, { fontWeight: 'normal' });
seg(211, 777, 224, '#7d1f8a', null, 1.4); txt('d', 231, 777, 6, { fontWeight: 'normal' });

const chart = echarts.init(document.getElementById('c'), null, { renderer: 'canvas' });
chart.setOption({ animation: false, backgroundColor: '#fff', textStyle: { fontFamily: FONT }, grid, xAxis, yAxis, series, graphic: g });
</script>
</body></html>
